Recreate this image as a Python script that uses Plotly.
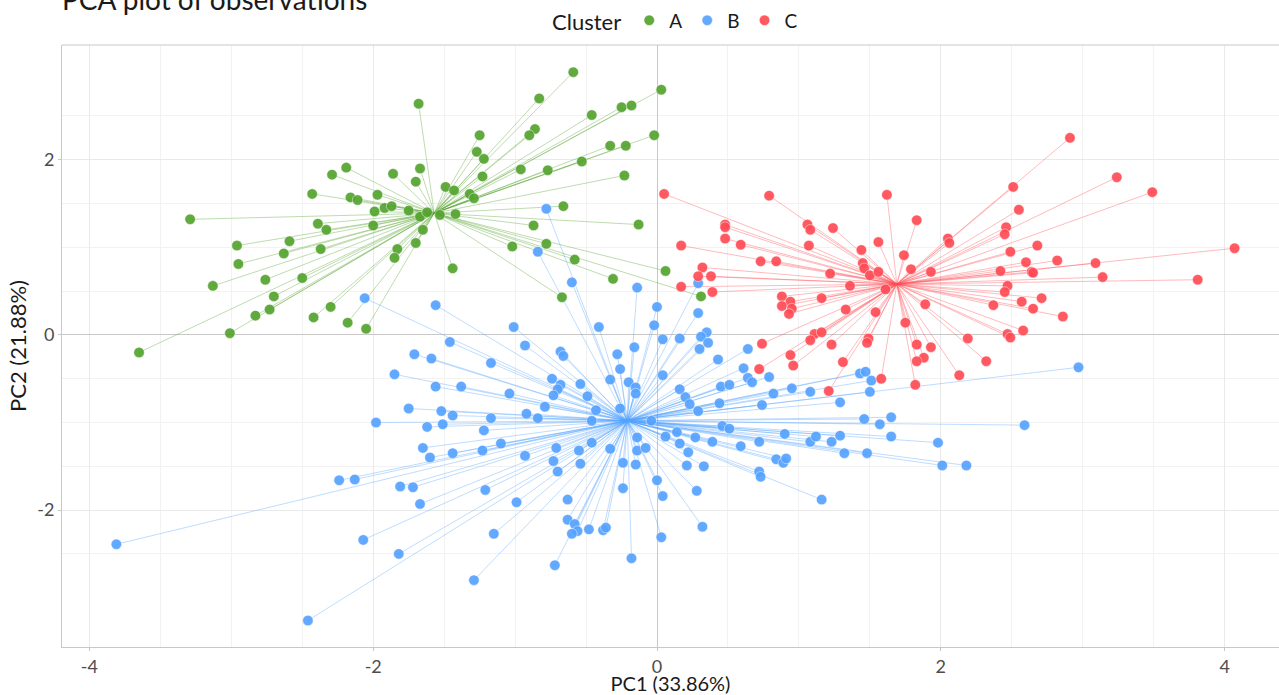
import plotly.graph_objects as go

# PCA scores (PC1, PC2) for each observation, grouped by cluster
cluster_names = ["A", "B", "C"]

a_points = [
    (-2.19, 1.91), (-2.29, 1.83), (-2.43, 1.61), (-2.16, 1.57), (-2.11, 1.54), (-3.29, 1.32),
    (-2.39, 1.27), (-2.33, 1.20), (-0.59, 3.00), (0.03, 2.80), (-0.83, 2.70), (-1.68, 2.64),
    (-0.25, 2.60), (-0.18, 2.62), (-0.46, 2.51), (-1.25, 2.28), (-0.86, 2.35), (-0.90, 2.28),
    (-0.02, 2.28), (-1.27, 2.09), (-1.22, 2.01), (-0.33, 2.16), (-0.22, 2.16), (-0.53, 1.98),
    (-0.96, 1.89), (-0.77, 1.88), (-0.23, 1.82), (-1.23, 1.81), (-1.86, 1.84), (-1.67, 1.90),
    (-1.70, 1.75), (-1.49, 1.69), (-1.43, 1.65), (-1.32, 1.61), (-1.29, 1.56), (-1.97, 1.60),
    (-1.99, 1.41), (-1.92, 1.45), (-1.87, 1.47), (-1.75, 1.42), (-1.67, 1.35), (-1.62, 1.40),
    (-1.53, 1.37), (-1.42, 1.38), (-1.65, 1.20), (-2.00, 1.25), (-0.87, 1.25), (-0.66, 1.47),
    (-0.13, 1.26), (-2.59, 1.07), (-2.96, 1.02), (-2.63, 0.93), (-2.37, 0.98), (-2.95, 0.81),
    (-2.76, 0.63), (-2.50, 0.65), (-3.13, 0.56), (-2.70, 0.44), (-2.83, 0.22), (-2.73, 0.29),
    (-3.01, 0.02), (-3.65, -0.20), (-2.42, 0.20), (-2.30, 0.32), (-2.18, 0.14), (-2.05, 0.07),
    (-1.83, 0.98), (-1.85, 0.88), (-1.70, 1.05), (-1.44, 0.76), (-1.02, 1.01), (-0.78, 1.04),
    (-0.58, 0.86), (-0.31, 0.64), (0.06, 0.73), (-0.67, 0.43), (0.31, 0.44),
]

b_points = [
    (-0.78, 1.44), (-2.06, 0.42), (-0.84, 0.95), (0.29, 0.59), (-0.60, 0.60), (-0.14, 0.54),
    (0.00, 0.32), (-0.02, 0.11), (-0.41, 0.09), (-1.56, 0.34), (-1.01, 0.09), (-1.46, -0.08),
    (-0.93, -0.12), (-0.68, -0.19), (-0.66, -0.24), (-0.16, -0.14), (-0.28, -0.22), (0.04, -0.05),
    (-1.71, -0.22), (-1.59, -0.27), (-1.17, -0.32), (-0.26, -0.39), (0.04, -0.46), (-1.85, -0.45),
    (-0.74, -0.50), (-0.68, -0.57), (-0.70, -0.62), (-0.54, -0.56), (-0.33, -0.51), (-0.20, -0.54),
    (-0.15, -0.60), (-0.15, -0.67), (-1.56, -0.59), (-1.38, -0.59), (-1.04, -0.67), (-0.73, -0.69),
    (-0.49, -0.70), (-1.75, -0.84), (-1.52, -0.87), (-1.44, -0.92), (-0.79, -0.82), (-0.43, -0.86),
    (-0.26, -0.84), (-1.98, -1.00), (-1.62, -1.05), (-1.51, -1.02), (-1.17, -0.95), (-0.92, -0.90),
    (-0.84, -0.95), (-0.46, -0.98), (-0.04, -0.98), (-1.22, -1.09), (-0.14, -1.17), (0.06, -1.16),
    (0.14, -1.11), (-1.65, -1.29), (-1.10, -1.24), (-0.46, -1.23), (0.16, -0.62), (0.16, -0.04),
    (-1.60, -1.40), (-1.44, -1.35), (-1.23, -1.32), (-0.93, -1.38), (-0.71, -1.29), (-0.55, -1.32),
    (-0.73, -1.44), (-0.54, -1.47), (-0.70, -1.56), (-0.33, -1.30), (-0.24, -1.46), (-0.14, -1.32),
    (-0.15, -1.48), (-0.08, -1.29), (-0.24, -1.75), (0.00, -1.66), (0.04, -1.84), (-1.81, -1.73),
    (-1.72, -1.74), (-1.67, -1.93), (-1.21, -1.77), (-0.99, -1.91), (-0.63, -1.88), (-0.63, -2.11),
    (-0.58, -2.16), (-0.56, -2.24), (-0.60, -2.27), (-0.48, -2.22), (-0.38, -2.23), (-0.36, -2.20),
    (0.03, -2.31), (-1.15, -2.27), (-1.82, -2.50), (-0.72, -2.63), (-0.18, -2.55), (-1.29, -2.80),
    (-2.24, -1.66), (-2.13, -1.65), (-3.81, -2.39), (-2.07, -2.34), (-2.46, -3.26),
    (0.29, 0.25), (0.35, 0.03), (0.31, -0.02), (0.36, -0.09), (0.30, -0.16), (0.64, -0.16),
    (0.43, -0.28), (0.61, -0.38), (0.64, -0.49), (0.67, -0.54), (0.79, -0.48), (0.45, -0.59),
    (0.51, -0.57), (0.20, -0.71), (0.23, -0.79), (0.44, -0.78), (0.29, -0.87), (0.74, -0.80),
    (0.82, -0.67), (0.95, -0.61), (1.08, -0.65), (1.29, -0.77), (1.43, -0.44), (1.47, -0.42),
    (1.51, -0.52), (1.50, -0.65), (1.46, -0.96), (1.57, -1.02), (1.65, -0.94), (1.65, -1.16),
    (0.46, -1.04), (0.51, -1.07), (0.90, -1.13), (1.08, -1.22), (1.12, -1.16), (1.23, -1.22),
    (1.29, -1.15), (0.27, -1.17), (0.39, -1.22), (0.72, -1.22), (1.98, -1.23),
    (0.16, -1.24), (0.22, -1.34), (0.21, -1.49), (0.33, -1.50), (0.59, -1.27), (0.28, -1.78),
    (0.32, -2.19), (0.72, -1.56), (0.73, -1.62), (0.84, -1.42), (0.89, -1.46), (0.91, -1.41),
    (1.16, -1.88), (1.32, -1.35), (1.48, -1.35), (2.01, -1.49), (2.18, -1.49), (2.97, -0.37),
    (2.59, -1.03),
]

c_points = [
    (0.05, 1.61), (0.17, 1.02), (0.17, 0.55), (0.79, 1.59), (1.62, 1.60), (1.83, 1.31),
    (0.48, 1.26), (0.48, 1.23), (1.06, 1.26), (1.08, 1.20), (1.24, 1.22), (2.51, 1.69),
    (2.91, 2.25), (3.24, 1.80), (3.49, 1.63), (2.55, 1.43), (2.46, 1.23), (2.45, 1.15),
    (0.48, 1.10), (0.59, 1.03), (0.73, 0.84), (0.84, 0.84), (1.07, 1.02), (0.32, 0.77),
    (0.29, 0.67), (0.38, 0.67), (0.39, 0.49), (0.88, 0.44), (0.94, 0.38), (0.88, 0.33),
    (0.95, 0.30), (0.93, 0.24), (1.16, 0.42), (1.22, 0.70), (1.36, 0.56), (1.44, 0.97),
    (1.45, 0.82), (1.46, 0.76), (1.50, 0.68), (1.56, 0.72), (1.56, 1.06), (1.74, 0.91),
    (1.79, 0.75), (1.93, 0.72), (2.05, 1.10), (2.06, 1.05), (1.61, 0.52), (1.54, 0.26),
    (1.33, 0.29), (1.89, 0.35), (1.75, 0.14), (1.11, 0.01), (1.08, -0.06), (1.16, 0.03),
    (1.23, -0.11), (0.74, -0.10), (0.94, -0.23), (0.96, -0.35), (0.72, -0.39), (1.31, -0.31),
    (1.49, -0.04), (1.48, -0.09), (1.21, -0.64), (1.58, -0.50), (1.82, -0.57), (1.83, -0.11),
    (1.93, -0.14), (1.88, -0.26), (1.83, -0.30), (2.13, -0.46), (2.19, -0.04), (2.32, -0.30),
    (2.68, 1.02), (2.49, 0.95), (2.60, 0.83), (2.82, 0.85), (3.09, 0.82), (4.07, 0.99),
    (2.42, 0.73), (2.64, 0.72), (2.65, 0.71), (3.14, 0.66), (3.81, 0.63), (2.47, 0.56),
    (2.45, 0.49), (2.71, 0.42), (2.57, 0.38), (2.37, 0.34), (2.65, 0.30), (2.86, 0.21),
    (2.58, 0.05), (2.47, 0.01), (2.49, -0.03),
]

# cluster centres (PC1, PC2)
centroids = [(-1.57, 1.39), (-0.21, -0.98), (1.69, 0.58)]

marker_colors = ["#53a32e", "#55a2ff", "#ff4b55"]
line_colors = ["rgba(83,163,46,0.38)", "rgba(85,162,255,0.38)", "rgba(255,75,85,0.38)"]

x_ticks = [-4, -2, 0, 2, 4]
y_ticks = [-2, 0, 2]
x_minor = [-3.5, -3, -2.5, -1.5, -1, -0.5, 0.5, 1, 1.5, 2.5, 3, 3.5]
y_minor = [-2.5, -1.5, -1, -0.5, 0.5, 1, 1.5, 2.5]

groups = [a_points, b_points, c_points]

fig = go.Figure()

# spokes from every observation to its cluster centre
for pts, (cx, cy), lc in zip(groups, centroids, line_colors):
    sx, sy = [], []
    for px, py in pts:
        sx += [cx, px, None]
        sy += [cy, py, None]
    fig.add_trace(go.Scatter(
        x=sx, y=sy, mode="lines", line=dict(color=lc, width=1),
        hoverinfo="skip", showlegend=False,
    ))

# observation markers
for name, pts, mc in zip(cluster_names, groups, marker_colors):
    fig.add_trace(go.Scatter(
        x=[p[0] for p in pts], y=[p[1] for p in pts], mode="markers", name=name,
        marker=dict(color=mc, size=10.5, opacity=0.92, line=dict(color="white", width=0.5)),
    ))

axis_common = dict(
    showgrid=True, gridcolor="#e9e9e9", gridwidth=1,
    zeroline=True, zerolinecolor="#c8c8c8", zerolinewidth=1,
    showline=True, linecolor="#c8c8c8", linewidth=1,
    ticks="outside", ticklen=3, tickcolor="#c8c8c8",
    tickfont=dict(family="Lato", size=18, color="#4d4d4d"),
)

fig.update_layout(
    width=1279, height=695,
    margin=dict(l=62, r=0, t=45, b=41),
    paper_bgcolor="white", plot_bgcolor="white",
    font=dict(family="Lato", color="#1a1a1a"),
    title=dict(
        text="PCA plot of observations", font=dict(family="Lato", size=28, color="#1a1a1a"),
        xref="container", x=62 / 1279, xanchor="left",
        yref="container", y=1, yanchor="middle",
    ),
    xaxis=dict(
        range=[-4.193, 4.383], tickvals=x_ticks, ticktext=[str(v) for v in x_ticks],
        minor=dict(tickvals=x_minor, showgrid=True, gridcolor="#f2f2f2", ticks=""),
        title=dict(text="PC1 (33.86%)", font=dict(family="Lato", size=20, color="#1a1a1a"), standoff=4),
        **axis_common,
    ),
    yaxis=dict(
        range=[-3.563, 3.31], tickvals=y_ticks, ticktext=[str(v) for v in y_ticks],
        minor=dict(tickvals=y_minor, showgrid=True, gridcolor="#f2f2f2", ticks=""),
        title=dict(text="PC2 (21.88%)", font=dict(family="Lato", size=22, color="#1a1a1a"), standoff=4),
        **axis_common,
    ),
    legend=dict(
        orientation="h", x=0.505, xanchor="center", y=1.04, yanchor="middle",
        title=dict(text="Cluster", font=dict(family="Lato", size=22, color="#1a1a1a")),
        font=dict(family="Lato", size=19, color="#1a1a1a"),
        itemwidth=30, bgcolor="rgba(0,0,0,0)",
    ),
    shapes=[dict(type="line", xref="paper", yref="paper", x0=0, x1=1, y0=1, y1=1,
                 line=dict(color="#c8c8c8", width=1))],
)

fig.write_html("out.html")
